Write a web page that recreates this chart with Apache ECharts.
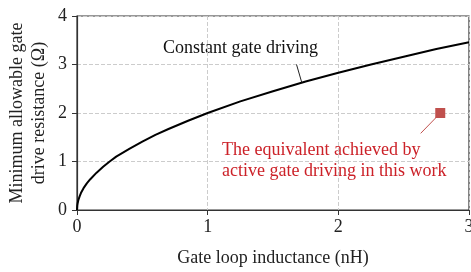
<!DOCTYPE html>
<html>
<head>
<meta charset="utf-8">
<script src="https://cdn.jsdelivr.net/npm/echarts@6/dist/echarts.min.js"></script>
<style>html,body{margin:0;padding:0;background:#fff}#main{width:471px;height:272px}</style>
</head>
<body>
<div id="main"></div>
<script>
// curve
const inductance = [0, 0.002, 0.005, 0.01, 0.02, 0.03, 0.05, 0.075, 0.1, 0.15, 0.2, 0.25, 0.3, 0.4, 0.5, 0.6, 0.7, 0.85, 1, 1.25, 1.5, 1.75, 2, 2.25, 2.5, 2.75, 3];
const resistance = [0, 0.09, 0.14, 0.2, 0.28, 0.35, 0.45, 0.55, 0.63, 0.77, 0.89, 1.0, 1.1, 1.26, 1.41, 1.55, 1.67, 1.84, 2.0, 2.24, 2.45, 2.65, 2.83, 3.0, 3.16, 3.32, 3.46];
const activePoint = [2.78, 2.0];

const font = 'Liberation Serif';
let myChart = echarts.init(document.getElementById('main'));

let option = {
    animation: false,
    grid: {left: 77, right: 2, top: 16, bottom: 62, show: true, borderColor: '#333', borderWidth: 1.2,
        outerBoundsMode: 'none', containLabel: false},
    xAxis: {
        type: 'value', min: 0, max: 3, interval: 1,
        name: 'Gate loop inductance (nH)', nameLocation: 'middle', nameGap: 39, nameMoveOverlap: false,
        nameTextStyle: {fontFamily: font, fontSize: 18, color: '#222'},
        axisLine: {lineStyle: {color: '#333', width: 1.2}},
        axisTick: {show: true, length: 5, lineStyle: {color: '#333'}},
        axisLabel: {fontFamily: font, fontSize: 18, color: '#222', margin: 8},
        splitLine: {lineStyle: {type: 'dashed', color: '#ccc'}}
    },
    yAxis: {
        type: 'value', min: 0, max: 4, interval: 1,
        name: 'Minimum allowable gate\ndrive resistance (Ω)', nameLocation: 'middle', nameGap: 27, nameMoveOverlap: false,
        nameTextStyle: {fontFamily: font, fontSize: 18, color: '#222', lineHeight: 22},
        axisLine: {lineStyle: {color: '#333', width: 1.2}},
        axisTick: {show: true, length: 5, lineStyle: {color: '#333'}},
        axisLabel: {fontFamily: font, fontSize: 18, color: '#222', margin: 10},
        splitLine: {lineStyle: {type: 'dashed', color: '#ccc'}}
    },
    series: [
        {
            type: 'line',
            data: inductance.map((x, i) => [x, resistance[i]]),
            smooth: false, showSymbol: false,
            lineStyle: {color: '#000', width: 2, join: 'round'},
            markLine: {
                silent: true, symbol: 'none',
                lineStyle: {color: '#222', width: 1, type: 'solid'},
                label: {show: false},
                data: [[{coord: [1.68, 3.0]}, {coord: [1.72, 2.63]}]]
            }
        },
        {
            type: 'scatter',
            data: [activePoint],
            symbol: 'rect', symbolSize: 10,
            itemStyle: {color: '#c0504d', opacity: 1},
            markLine: {
                silent: true, symbol: 'none',
                lineStyle: {color: '#c0504d', width: 1, type: 'solid'},
                label: {show: false},
                data: [[{coord: [2.63, 1.58]}, {coord: [2.76, 1.94]}]]
            }
        }
    ],
    graphic: [
        {type: 'text', left: 163, top: 39, style: {text: 'Constant gate driving', font: '18px "Liberation Serif"', fill: '#111'}},
        {type: 'text', left: 222, top: 140, style: {text: 'The equivalent achieved by\nactive gate driving in this work', font: '18px "Liberation Serif"', fill: '#cc2229', lineHeight: 21}}
    ]
};
myChart.setOption(option);
</script>
</body>
</html>
